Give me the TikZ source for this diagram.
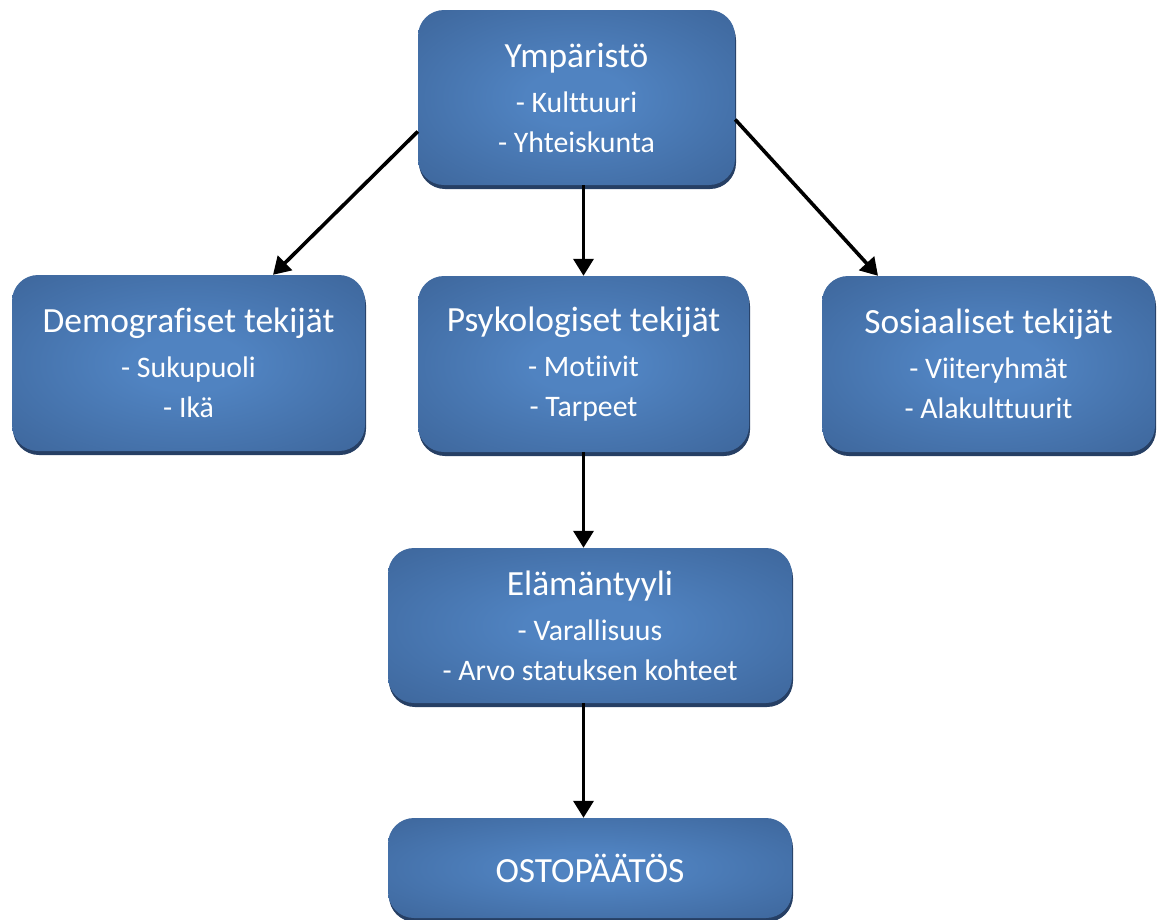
\documentclass[tikz,border=0pt]{standalone}
\usepackage{fontspec}
\setmainfont{Carlito}[Ligatures=NoCommon]
\usetikzlibrary{arrows.meta,shadows}
\definecolor{bcin}{RGB}{80,131,193}
\definecolor{bcout}{RGB}{55,92,142}
\definecolor{shadowc}{RGB}{38,63,100}
\pgfdeclareradialshading{boxshade}{\pgfpoint{0bp}{0bp}}{color(0bp)=(bcin); color(8bp)=(bcin); color(46bp)=(bcout); color(72bp)=(bcout)}
\newcommand{\ttlfont}{\fontsize{35.4}{42}\selectfont}
\newcommand{\itmfont}{\fontsize{29.8}{40}\selectfont}
\tikzset{
  bluebox/.style={rectangle, rounded corners=26pt, shading=boxshade, inner sep=0pt,
    text=white, align=center, font=\itmfont,
    drop shadow={shadow xshift=1pt, shadow yshift=-4pt, fill=shadowc, opacity=1}},
  flow/.style={line width=3.6pt, -{Triangle[length=17pt,width=20pt]}}
}
\begin{document}
\begin{tikzpicture}[x=1pt,y=1pt]
\useasboundingbox (0,0) rectangle (1157,-919);
\node[bluebox, minimum width=317pt, minimum height=175pt] (ymp) at (576.5,-97.5)
  {{\ttlfont Ympäristö}\\[5pt]- Kulttuuri\\- Yhteiskunta};
\node[bluebox, minimum width=353pt, minimum height=176pt] (dem) at (188.5,-363)
  {{\ttlfont Demografiset tekijät}\\[5pt]- Sukupuoli\\- Ikä};
\node[bluebox, minimum width=331pt, minimum height=176pt] (psy) at (583.5,-364)
  {{\ttlfont Psykologiset tekijät}\\[5pt]- Motiivit\\- Tarpeet};
\node[bluebox, minimum width=333pt, minimum height=176pt] (soc) at (988.5,-364)
  {{\ttlfont Sosiaaliset tekijät}\\[5pt]- Viiteryhmät\\- Alakulttuurit};
\node[bluebox, minimum width=404pt, minimum height=155pt] (ela) at (590,-625.5)
  {{\ttlfont Elämäntyyli}\\[5pt]- Varallisuus\\- Arvo statuksen kohteet};
\node[bluebox, minimum width=404pt, minimum height=100pt] (ost) at (590,-868)
  {\ttlfont OSTOPÄÄTÖS};
\draw[flow] ([yshift=-34pt]ymp.west) -- ([xshift=84.5pt]dem.north);
\draw[flow] ([yshift=-22pt]ymp.east) -- ([xshift=-110.5pt]soc.north);
\draw[flow] (psy.north |- ymp.south) -- (psy.north);
\draw[flow] (psy.south) -- (psy.south |- ela.north);
\draw[flow] (psy.south |- ela.south) -- (psy.south |- ost.north);
\end{tikzpicture}
\end{document}
